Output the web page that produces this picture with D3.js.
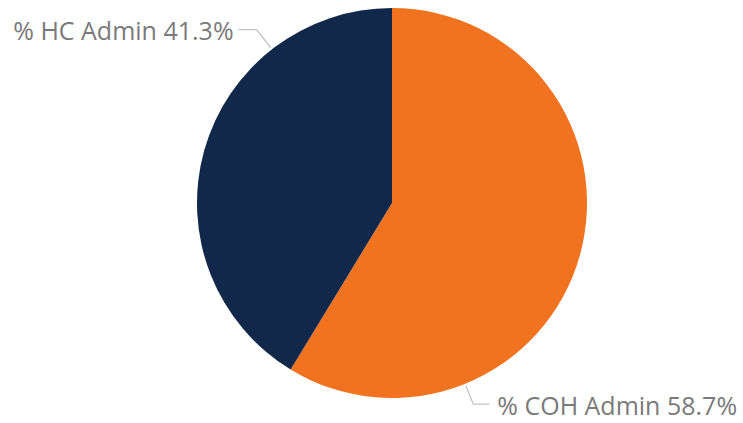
<!DOCTYPE html>
<html>
<head>
<meta charset="utf-8">
<script src="https://cdn.jsdelivr.net/npm/d3@7"></script>
<style>
  html, body { margin: 0; padding: 0; background: #ffffff; }
</style>
</head>
<body>
<div id="chart"></div>
<script>
const categories = ['% COH Admin', '% HC Admin']
const values = [58.7, 41.3]
const colors = ['#f1731f', '#12284a']
const labelText = ['% COH Admin 58.7%', '% HC Admin 41.3%']

const WIDTH = 743
const HEIGHT = 423
const CX = 392
const CY = 203
const R = 195

const svg = d3.select('#chart').append('svg').attr('width', WIDTH).attr('height', HEIGHT)

const g = svg.append('g').attr('transform', `translate(${CX} ${CY})`)

const data = categories.map((c, i) => ({ name: c, value: values[i], color: colors[i], label: labelText[i] }))

const pie = d3.pie().sort(null).value((d) => d.value)
const arcs = pie(data)

const arc = d3.arc().innerRadius(0).outerRadius(R)

g.selectAll('path.slice')
  .data(arcs)
  .join('path')
  .attr('class', 'slice')
  .attr('d', arc)
  .attr('fill', (d) => d.data.color)

// leader lines: start on the rim, bend, then run flat to the label
const pointAt = (angle, radius) => [Math.sin(angle) * radius, -Math.cos(angle) * radius]

const labelSpots = [
  { angle: (158 / 180) * Math.PI, bendR: R + 22, flat: 16, side: 1, gap: 8 },
  { angle: (322 / 180) * Math.PI, bendR: R + 25, flat: 18, side: -1, gap: 5 },
]

arcs.forEach((a, i) => {
  const spot = labelSpots[i]
  const p0 = pointAt(spot.angle, R + 2)
  const p1 = pointAt(spot.angle, spot.bendR)
  const p2 = [p1[0] + spot.side * spot.flat, p1[1]]

  g.append('path')
    .attr('d', d3.line()([p0, p1, p2]))
    .attr('fill', 'none')
    .attr('stroke', '#c4c4c4')
    .attr('stroke-width', 1.3)

  g.append('text')
    .attr('x', p2[0] + spot.side * spot.gap)
    .attr('y', p2[1] + 2)
    .attr('dy', '0.35em')
    .attr('text-anchor', spot.side > 0 ? 'start' : 'end')
    .attr('fill', '#7a7a7a')
    .attr('font-family', 'Segoe UI, Open Sans, sans-serif')
    .attr('font-size', 25)
    .text(a.data.label)
})
</script>
</body>
</html>
